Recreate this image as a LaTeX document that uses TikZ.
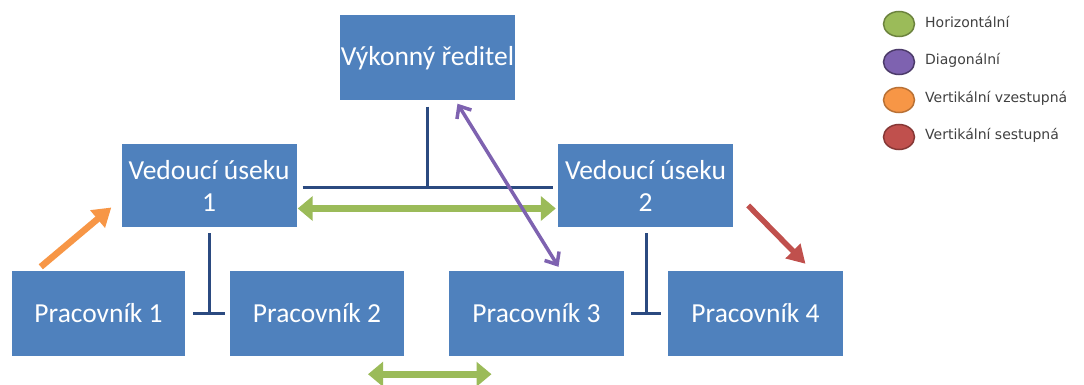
\documentclass[tikz,border=0pt]{standalone}
\usepackage{fontspec}
\setmainfont{Carlito}
\newfontfamily\legfont{DejaVu Sans}
\usetikzlibrary{arrows.meta,shapes.geometric}
\definecolor{boxblue}{HTML}{4F81BD}
\definecolor{navy}{HTML}{2B4A80}
\definecolor{hgreen}{HTML}{9BBB59}
\definecolor{dpurple}{HTML}{7E62B0}
\definecolor{vorange}{HTML}{F79646}
\definecolor{vred}{HTML}{C0504D}
\definecolor{legtext}{HTML}{404040}
\tikzset{
  orgbox/.style={rectangle, fill=boxblue, text=white, minimum width=175pt, minimum height=85pt,
    inner sep=0pt, align=center, font=\fontsize{27.5}{32}\selectfont},
  orgline/.style={draw=navy, line width=3pt},
  greenarrow/.style={draw=hgreen, line width=7pt, {Triangle[width=24pt,length=15pt]}-{Triangle[width=24pt,length=15pt]}},
  purplearrow/.style={draw=dpurple, line width=3.5pt, {Straight Barb[width=17pt,length=10pt]}-{Straight Barb[width=17pt,length=10pt]}},
  orangearrow/.style={draw=vorange, line width=6.5pt, -{Triangle[width=22pt,length=18pt]}},
  redarrow/.style={draw=vred, line width=5.5pt, -{Triangle[width=20pt,length=18pt]}},
  legdot/.style={ellipse, minimum width=31pt, minimum height=25pt, inner sep=0pt, line width=1.5pt},
  legtxt/.style={anchor=west, inner sep=0pt, text=legtext, font=\legfont\fontsize{14}{16}\selectfont},
}
\begin{document}
\begin{tikzpicture}[x=1pt,y=-1pt]
\useasboundingbox (0,0) rectangle (1084,385);
% boxes
\node[orgbox] (ceo) at (427.5,58) {Výkonný ředitel};
\node[orgbox, minimum height=83pt] (vu1) at (209,185.5) {Vedoucí úseku\\1};
\node[orgbox, minimum height=83pt] (vu2) at (645.5,185.5) {Vedoucí úseku\\2};
\node[orgbox, minimum width=173pt] (p1) at (98.5,313.5) {Pracovník 1};
\node[orgbox, minimum width=174pt] (p2) at (317,313.5) {Pracovník 2};
\node[orgbox] (p3) at (536.5,313.5) {Pracovník 3};
\node[orgbox] (p4) at (755.5,313.5) {Pracovník 4};
% org connectors
\coordinate (j0) at (427.5,187);
\coordinate (j1) at (209,313);
\coordinate (j2) at (646,313);
\draw[orgline] ([yshift=-6pt]ceo.south) -- (j0);
\draw[orgline] ([xshift=6pt]vu1.east |- j0) -- ([xshift=-5pt]vu2.west |- j0);
\draw[orgline] ([yshift=-6pt]vu1.south) -- (j1);
\draw[orgline] ([xshift=8pt]p1.east |- j1) -- ([xshift=-5pt]p2.west |- j1);
\draw[orgline] ([yshift=-6pt]vu2.south -| j2) -- (j2);
\draw[orgline] ([xshift=7pt]p3.east |- j2) -- ([xshift=-7pt]p4.west |- j2);
% communication arrows
\draw[greenarrow] ([xshift=1pt,yshift=-23pt]vu1.east) -- ([xshift=-2pt,yshift=-23pt]vu2.west);
\draw[greenarrow] ([xshift=51pt,yshift=-18pt]p2.south) -- ([xshift=-45pt,yshift=-18pt]p3.south);
\draw[purplearrow] ([xshift=30pt,yshift=-3pt]ceo.south) -- ([xshift=22pt,yshift=4pt]p3.north);
\draw[orangearrow] ([xshift=29pt,yshift=4pt]p1.north west) -- ([xshift=-10pt,yshift=-22pt]vu1.west);
\draw[redarrow] ([xshift=15pt,yshift=-20pt]vu2.east) -- ([xshift=50pt,yshift=7pt]p4.north);
% legend
\node[legdot, fill=hgreen, draw=hgreen!70!black] (lg1) at (899,24) {};
\node[legdot, fill=dpurple, draw=dpurple!60!black] (lg2) at (899,62) {};
\node[legdot, fill=vorange, draw=vorange!75!black] (lg3) at (899,100) {};
\node[legdot, fill=vred, draw=vred!70!black] (lg4) at (899,137) {};
\node[legtxt] (lt1) at (925,22) {Horizontální};
\node[legtxt] (lt2) at (925,60) {Diagonální};
\node[legtxt] (lt3) at (925,98) {Vertikální vzestupná};
\node[legtxt] (lt4) at (925,135) {Vertikální sestupná};
\end{tikzpicture}
\end{document}
